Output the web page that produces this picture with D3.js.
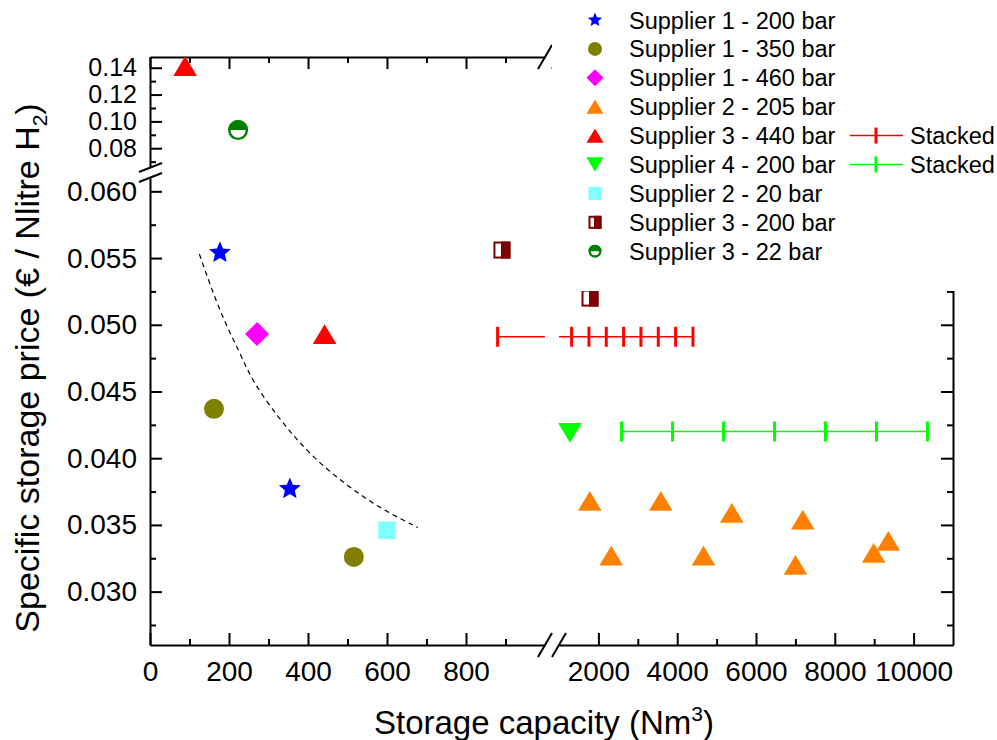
<html>
<head>
<meta charset="utf-8">
<title>Specific storage price vs storage capacity</title>
<script src="https://cdn.jsdelivr.net/npm/d3@7"></script>
<style>
  body { margin: 0; background: white; }
  svg text { font-family: "Liberation Sans", Arial, sans-serif; fill: black; }
</style>
</head>
<body>
<div id="chart"></div>
<script>
  // capacity in Nm3, price in EUR / Nlitre H2
  var sup1_200 = [[177, 0.0554], [354, 0.0377]];
  var sup1_350 = [[162, 0.0437], [516, 0.0326]];
  var sup1_460 = [[271, 0.0493]];
  var sup2_205 = [[1782, 0.0368], [3584, 0.0368], [5386, 0.0359], [7188, 0.0354], [2325, 0.0327],
                  [4668, 0.0327], [7003, 0.0320], [8987, 0.0329], [9358, 0.0338]];
  var sup3_440 = [[89, 0.1413], [442, 0.0493]];
  var sup4_200 = [[1279, 0.0419]];
  var sup2_20 = [[600, 0.0346]];
  var sup3_200 = [[891, 0.0556], [1787, 0.0520]];
  var sup3_22 = [[223, 0.0935]];

  var stacked440 = [[880, 0.0491], [1320, 0.0491], [1760, 0.0491], [2200, 0.0491], [2640, 0.0491],
                    [3080, 0.0491], [3520, 0.0491], [3960, 0.0491], [4400, 0.0491]];
  var stacked200 = [[2588, 0.0420], [3882, 0.0420], [5176, 0.0420], [6470, 0.0420],
                    [7764, 0.0420], [9058, 0.0420], [10352, 0.0420]];

  var trendLine = [[125, 0.0553], [177, 0.0509], [228, 0.0479], [260, 0.0457], [329, 0.0429],
                   [380, 0.0411], [448, 0.0391], [565, 0.0365], [678, 0.0348]];

  var xTicksLeft = [0, 200, 400, 600, 800];
  var xMinorLeft = [100, 300, 500, 700, 900];
  var xTicksRight = [2000, 4000, 6000, 8000, 10000];
  var xMinorRight = [3000, 5000, 7000, 9000];
  var yTicksLow = [0.030, 0.035, 0.040, 0.045, 0.050, 0.055, 0.060];
  var yMinorLow = [0.0275, 0.0325, 0.0375, 0.0425, 0.0475, 0.0525, 0.0575];
  var yTicksHigh = [0.08, 0.10, 0.12, 0.14];
  var yMinorHigh = [0.07, 0.09, 0.11, 0.13];

  var svg = d3.select('#chart').append('svg')
      .attr('width', 997)
      .attr('height', 740);

  var xLeft = d3.scaleLinear().domain([0, 1000]).range([150, 545]);
  var xRight = d3.scaleLinear().domain([1000, 11000]).range([559, 953]);
  var yLow = d3.scaleLinear().domain([0.026, 0.061]).range([645, 178]);
  var yHigh = d3.scaleLinear().domain([0.066, 0.148]).range([167, 57]);

  function X(v) { return v <= 1000 ? xLeft(v) : xRight(v); }
  function Y(v) { return v > 0.065 ? yHigh(v) : yLow(v); }

  var x0 = 150, x1 = 953, yBot = 645, yTop = 57;

  // --- axes ---
  function styleAxis(g, labelSize) {
    g.attr('font-family', '"Liberation Sans", Arial, sans-serif')
      .attr('font-size', labelSize || 28);
    g.select('.domain').attr('stroke', 'black').attr('stroke-width', 2);
    g.selectAll('.tick line').attr('stroke', 'black').attr('stroke-width', 2);
    g.selectAll('.tick text').attr('fill', 'black');
  }

  function addAxis(axis, tx, ty, size) {
    var g = svg.append('g').attr('transform', 'translate(' + tx + ',' + ty + ')').call(axis);
    styleAxis(g, size);
    return g;
  }

  function minor(axis, ticks, tx, ty) {
    var g = addAxis(axis.tickValues(ticks).tickSize(-6).tickFormat(''), tx, ty);
    g.select('.domain').remove();
  }

  // bottom
  addAxis(d3.axisBottom(xLeft).tickValues(xTicksLeft).tickSize(-12).tickSizeOuter(0).tickPadding(16)
      .tickFormat(d3.format('d')), 0, yBot);
  minor(d3.axisBottom(xLeft), xMinorLeft, 0, yBot);
  addAxis(d3.axisBottom(xRight).tickValues(xTicksRight).tickSize(-12).tickSizeOuter(0).tickPadding(16)
      .tickFormat(d3.format('d')), 0, yBot);
  minor(d3.axisBottom(xRight), xMinorRight, 0, yBot);

  // top
  addAxis(d3.axisTop(xLeft).tickValues(xTicksLeft).tickSize(-12).tickSizeOuter(0).tickFormat(''), 0, yTop);
  minor(d3.axisTop(xLeft), xMinorLeft, 0, yTop);
  addAxis(d3.axisTop(xRight).tickValues(xTicksRight).tickSize(-12).tickSizeOuter(0).tickFormat(''), 0, yTop);

  // left
  addAxis(d3.axisLeft(yLow).tickValues(yTicksLow).tickSize(-12).tickSizeOuter(0).tickPadding(13)
      .tickFormat(d3.format('.3f')), x0, 0);
  minor(d3.axisLeft(yLow), yMinorLow, x0, 0);
  addAxis(d3.axisLeft(yHigh).tickValues(yTicksHigh).tickSize(-12).tickSizeOuter(0).tickPadding(13)
      .tickFormat(d3.format('.2f')), x0, 0, 25);
  minor(d3.axisLeft(yHigh), yMinorHigh, x0, 0);

  // right
  addAxis(d3.axisRight(yLow).tickValues(yTicksLow).tickSize(-12).tickSizeOuter(0).tickFormat(''), x1, 0);
  minor(d3.axisRight(yLow), yMinorLow, x1, 0);
  addAxis(d3.axisRight(yHigh).tickValues(yTicksHigh).tickSize(-12).tickSizeOuter(0).tickFormat(''), x1, 0);

  // break marks
  var breakX = (xLeft.range()[1] + xRight.range()[0]) / 2;
  var breakY = (yHigh.range()[0] + yLow.range()[1]) / 2;
  function slash(xa, ya, xb, yb) {
    svg.append('line')
        .attr('x1', xa).attr('y1', ya).attr('x2', xb).attr('y2', yb)
        .attr('stroke', 'black').attr('stroke-width', 2);
  }
  [-1, 1].forEach(function(s) {
    slash(breakX + s * 7 - 7, yBot + 12, breakX + s * 7 + 7, yBot - 12);
    slash(breakX + s * 7 - 7, yTop + 12, breakX + s * 7 + 7, yTop - 12);
    slash(x0 - 11, breakY + s * 5 + 4.5, x0 + 12, breakY + s * 5 - 4.5);
  });

  // axis titles
  var xt = svg.append('text')
      .attr('x', 544).attr('y', 734)
      .attr('text-anchor', 'middle')
      .style('font-size', '33px')
      .text('Storage capacity (Nm');
  xt.append('tspan').attr('dy', -13).style('font-size', '21px').text('3');
  xt.append('tspan').attr('dy', 13).text(')');

  var yt = svg.append('text')
      .attr('transform', 'translate(39,368) rotate(-90)')
      .attr('text-anchor', 'middle')
      .style('font-size', '34px')
      .text('Specific storage price (\u20ac / Nlitre H');
  yt.append('tspan').attr('dy', 8).style('font-size', '21px').text('2');
  yt.append('tspan').attr('dy', -8).text(')');

  // --- marker shapes ---
  var shapes = {
    star: function(p, r) {
      for (var i = 0; i < 10; i++) {
        var a = -Math.PI / 2 + i * Math.PI / 5;
        var rr = i % 2 ? r * 0.45 : r;
        if (i === 0) p.moveTo(rr * Math.cos(a), rr * Math.sin(a));
        else p.lineTo(rr * Math.cos(a), rr * Math.sin(a));
      }
      p.closePath();
    },
    circle: function(p, r) { p.moveTo(r, 0); p.arc(0, 0, r, 0, 2 * Math.PI); },
    diamond: function(p, r) { p.moveTo(0, -r); p.lineTo(r, 0); p.lineTo(0, r); p.lineTo(-r, 0); p.closePath(); },
    up: function(p, r) { p.moveTo(0, -r * 0.84); p.lineTo(r, r * 0.84); p.lineTo(-r, r * 0.84); p.closePath(); },
    down: function(p, r) { p.moveTo(0, r * 0.84); p.lineTo(r, -r * 0.84); p.lineTo(-r, -r * 0.84); p.closePath(); },
    square: function(p, r) { p.rect(-r, -r, 2 * r, 2 * r); }
  };

  function shapePath(type, r) {
    var p = d3.path();
    shapes[type](p, r);
    return p.toString();
  }

  var series = [
    { name: 'Supplier 1 - 200 bar', data: sup1_200, type: 'star', color: '#0000ff', r: 11.5, lr: 7.5 },
    { name: 'Supplier 1 - 350 bar', data: sup1_350, type: 'circle', color: '#808000', r: 10, lr: 7 },
    { name: 'Supplier 1 - 460 bar', data: sup1_460, type: 'diamond', color: '#ff00ff', r: 12, lr: 8.5 },
    { name: 'Supplier 2 - 205 bar', data: sup2_205, type: 'up', color: '#ff8000', r: 11.8, lr: 8.5 },
    { name: 'Supplier 3 - 440 bar', data: sup3_440, type: 'up', color: '#ff0000', r: 11.8, lr: 8.5 },
    { name: 'Supplier 4 - 200 bar', data: sup4_200, type: 'down', color: '#00ff00', r: 11.8, lr: 8.5 },
    { name: 'Supplier 2 - 20 bar', data: sup2_20, type: 'square', color: '#80ffff', r: 8.8, lr: 6.5 },
    { name: 'Supplier 3 - 200 bar', data: sup3_200, type: 'halfsquare', color: '#800000', r: 8.5, lr: 6.5 },
    { name: 'Supplier 3 - 22 bar', data: sup3_22, type: 'halfcircle', color: '#008000', r: 10, lr: 6.5 }
  ];

  function drawMarker(g, s, r) {
    if (s.type === 'halfsquare') {
      g.append('rect').attr('x', -r + 1).attr('y', -r + 1).attr('width', 2 * r - 2).attr('height', 2 * r - 2)
          .attr('fill', 'white').attr('stroke', s.color).attr('stroke-width', 2);
      g.append('rect').attr('x', -1).attr('y', -r).attr('width', r + 1).attr('height', 2 * r)
          .attr('fill', s.color);
    } else if (s.type === 'halfcircle') {
      g.append('circle').attr('r', r - 1.2).attr('fill', 'white')
          .attr('stroke', s.color).attr('stroke-width', 2.4);
      var p = d3.path();
      p.moveTo(-r, 0);
      p.arc(0, 0, r, Math.PI, 2 * Math.PI);
      p.closePath();
      g.append('path').attr('d', p.toString()).attr('fill', s.color);
    } else {
      g.append('path').attr('d', shapePath(s.type, r)).attr('fill', s.color);
    }
  }

  // --- trend line ---
  svg.append('path')
      .datum(trendLine)
      .attr('d', d3.line().x(function(d) { return X(d[0]); }).y(function(d) { return Y(d[1]); })
          .curve(d3.curveBasis))
      .attr('fill', 'none')
      .attr('stroke', 'black')
      .attr('stroke-width', 1.2)
      .attr('stroke-dasharray', '5,4');

  // --- stacked lines ---
  var defs = svg.append('defs');
  defs.append('clipPath').attr('id', 'clipL').append('rect')
      .attr('x', xLeft.range()[0]).attr('y', yTop).attr('width', xLeft.range()[1] - xLeft.range()[0]).attr('height', yBot - yTop);
  defs.append('clipPath').attr('id', 'clipR').append('rect')
      .attr('x', xRight.range()[0]).attr('y', yTop).attr('width', xRight.range()[1] - xRight.range()[0]).attr('height', yBot - yTop);

  function stackLine(data, color) {
    [[xLeft, 'clipL'], [xRight, 'clipR']].forEach(function(seg) {
      svg.append('path')
          .datum(data)
          .attr('clip-path', 'url(#' + seg[1] + ')')
          .attr('d', d3.line().x(function(d) { return seg[0](d[0]); }).y(function(d) { return Y(d[1]); }))
          .attr('fill', 'none')
          .attr('stroke', color)
          .attr('stroke-width', 1.5);
    });
    svg.selectAll(null)
        .data(data)
        .enter()
        .append('line')
        .attr('x1', function(d) { return X(d[0]); })
        .attr('x2', function(d) { return X(d[0]); })
        .attr('y1', function(d) { return Y(d[1]) - 10; })
        .attr('y2', function(d) { return Y(d[1]) + 10; })
        .attr('stroke', color)
        .attr('stroke-width', 3);
  }
  stackLine(stacked440, '#ff0000');
  stackLine(stacked200, '#00ff00');

  // --- points ---
  series.forEach(function(s) {
    svg.selectAll(null)
        .data(s.data)
        .enter()
        .append('g')
        .attr('transform', function(d) { return 'translate(' + X(d[0]) + ',' + Y(d[1]) + ')'; })
        .each(function() { drawMarker(d3.select(this), s, s.r); });
  });

  // --- legend ---
  var legend = svg.append('g');
  legend.append('rect')
      .attr('x', 552).attr('y', 0).attr('width', 445).attr('height', 291)
      .attr('fill', 'white');

  series.forEach(function(s, i) {
    var ly = 20 + i * 28.9;
    drawMarker(legend.append('g').attr('transform', 'translate(595,' + ly + ')'), s, s.lr);
    legend.append('text')
        .attr('x', 629).attr('y', ly + 8.5)
        .style('font-size', '23.5px')
        .text(s.name);
  });

  [[4, '#ff0000'], [5, '#00ff00']].forEach(function(d) {
    var ly = 20 + d[0] * 28.9;
    legend.append('line').attr('x1', 850).attr('x2', 903).attr('y1', ly).attr('y2', ly)
        .attr('stroke', d[1]).attr('stroke-width', 1.5);
    legend.append('line').attr('x1', 876).attr('x2', 876).attr('y1', ly - 8).attr('y2', ly + 8)
        .attr('stroke', d[1]).attr('stroke-width', 3);
    legend.append('text')
        .attr('x', 910).attr('y', ly + 8.5)
        .style('font-size', '23.5px')
        .text('Stacked');
  });
</script>
</body>
</html>
